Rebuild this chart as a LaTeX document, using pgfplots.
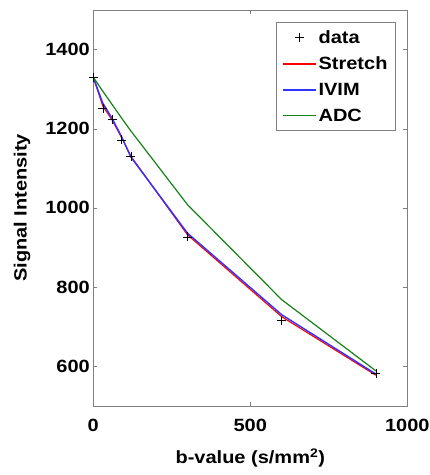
\documentclass[border=0pt]{standalone}
\usepackage{pgfplots}
\pgfplotsset{compat=1.18}
\usepackage{fontspec}
\setmainfont{Liberation Sans}[FakeStretch=1.13]
\definecolor{ivim}{RGB}{50,50,255}
\definecolor{adc}{RGB}{20,130,20}
\begin{document}
\begin{tikzpicture}
\begin{axis}[
  scale only axis, width=314pt, height=395.7pt,
  xmin=0, xmax=1000, ymin=500, ymax=1500,
  xtick={0,500,1000}, ytick={600,800,1000,1200,1400},
  tick align=inside, major tick length=4pt,
  axis line style={gray}, tick style={gray},
  font=\fontsize{17.7}{20}\selectfont\bfseries,
  /pgf/number format/assume math mode=true,
  /pgf/number format/1000 sep={},
  xticklabel style={yshift=-10pt},
  xlabel={b-value (s/mm\textsuperscript{2})},
  ylabel={Signal Intensity},
  xlabel style={yshift=-10pt},
  ylabel style={yshift=8pt},
  legend style={at={(0.963,0.969)}, anchor=north east, draw=gray, fill=white,
    font=\fontsize{17.7}{20}\selectfont\bfseries, row sep=8pt, inner xsep=6pt,
    inner ysep=6pt},
  legend cell align=left,
  legend image code/.code={\draw[#1] (0pt,0pt) -- (33pt,0pt);},
]
\addplot[only marks, mark=+, mark size=4.5pt, black, thin,
  legend image code/.code={\draw[black,thin] plot[mark=+, mark size=4.5pt] coordinates {(16.5pt,0pt)};}]
  coordinates {(0,1330) (30,1251) (60,1223) (90,1172) (120,1130) (300,927) (600,716) (900,581)};
\addlegendentry{data}
\addplot[red, line width=1.2pt] coordinates {(0,1330) (30,1258) (60,1222) (90,1178) (120,1130) (300,932) (600,725) (900,577)};
\addlegendentry{Stretch}
\addplot[ivim, line width=1.4pt] coordinates {(0,1330) (30,1265) (60,1226) (90,1180) (120,1128) (300,936) (600,730) (900,580)};
\addlegendentry{IVIM}
\addplot[adc, line width=1.2pt] coordinates {(0,1330) (30,1295) (60,1261) (90,1227) (120,1194) (300,1008) (600,768) (900,588)};
\addlegendentry{ADC}
\end{axis}
\pgfresetboundingbox
\path[use as bounding box] (-93.3pt,-69.3pt) rectangle (336.7pt,405.7pt);
\end{tikzpicture}
\end{document}
